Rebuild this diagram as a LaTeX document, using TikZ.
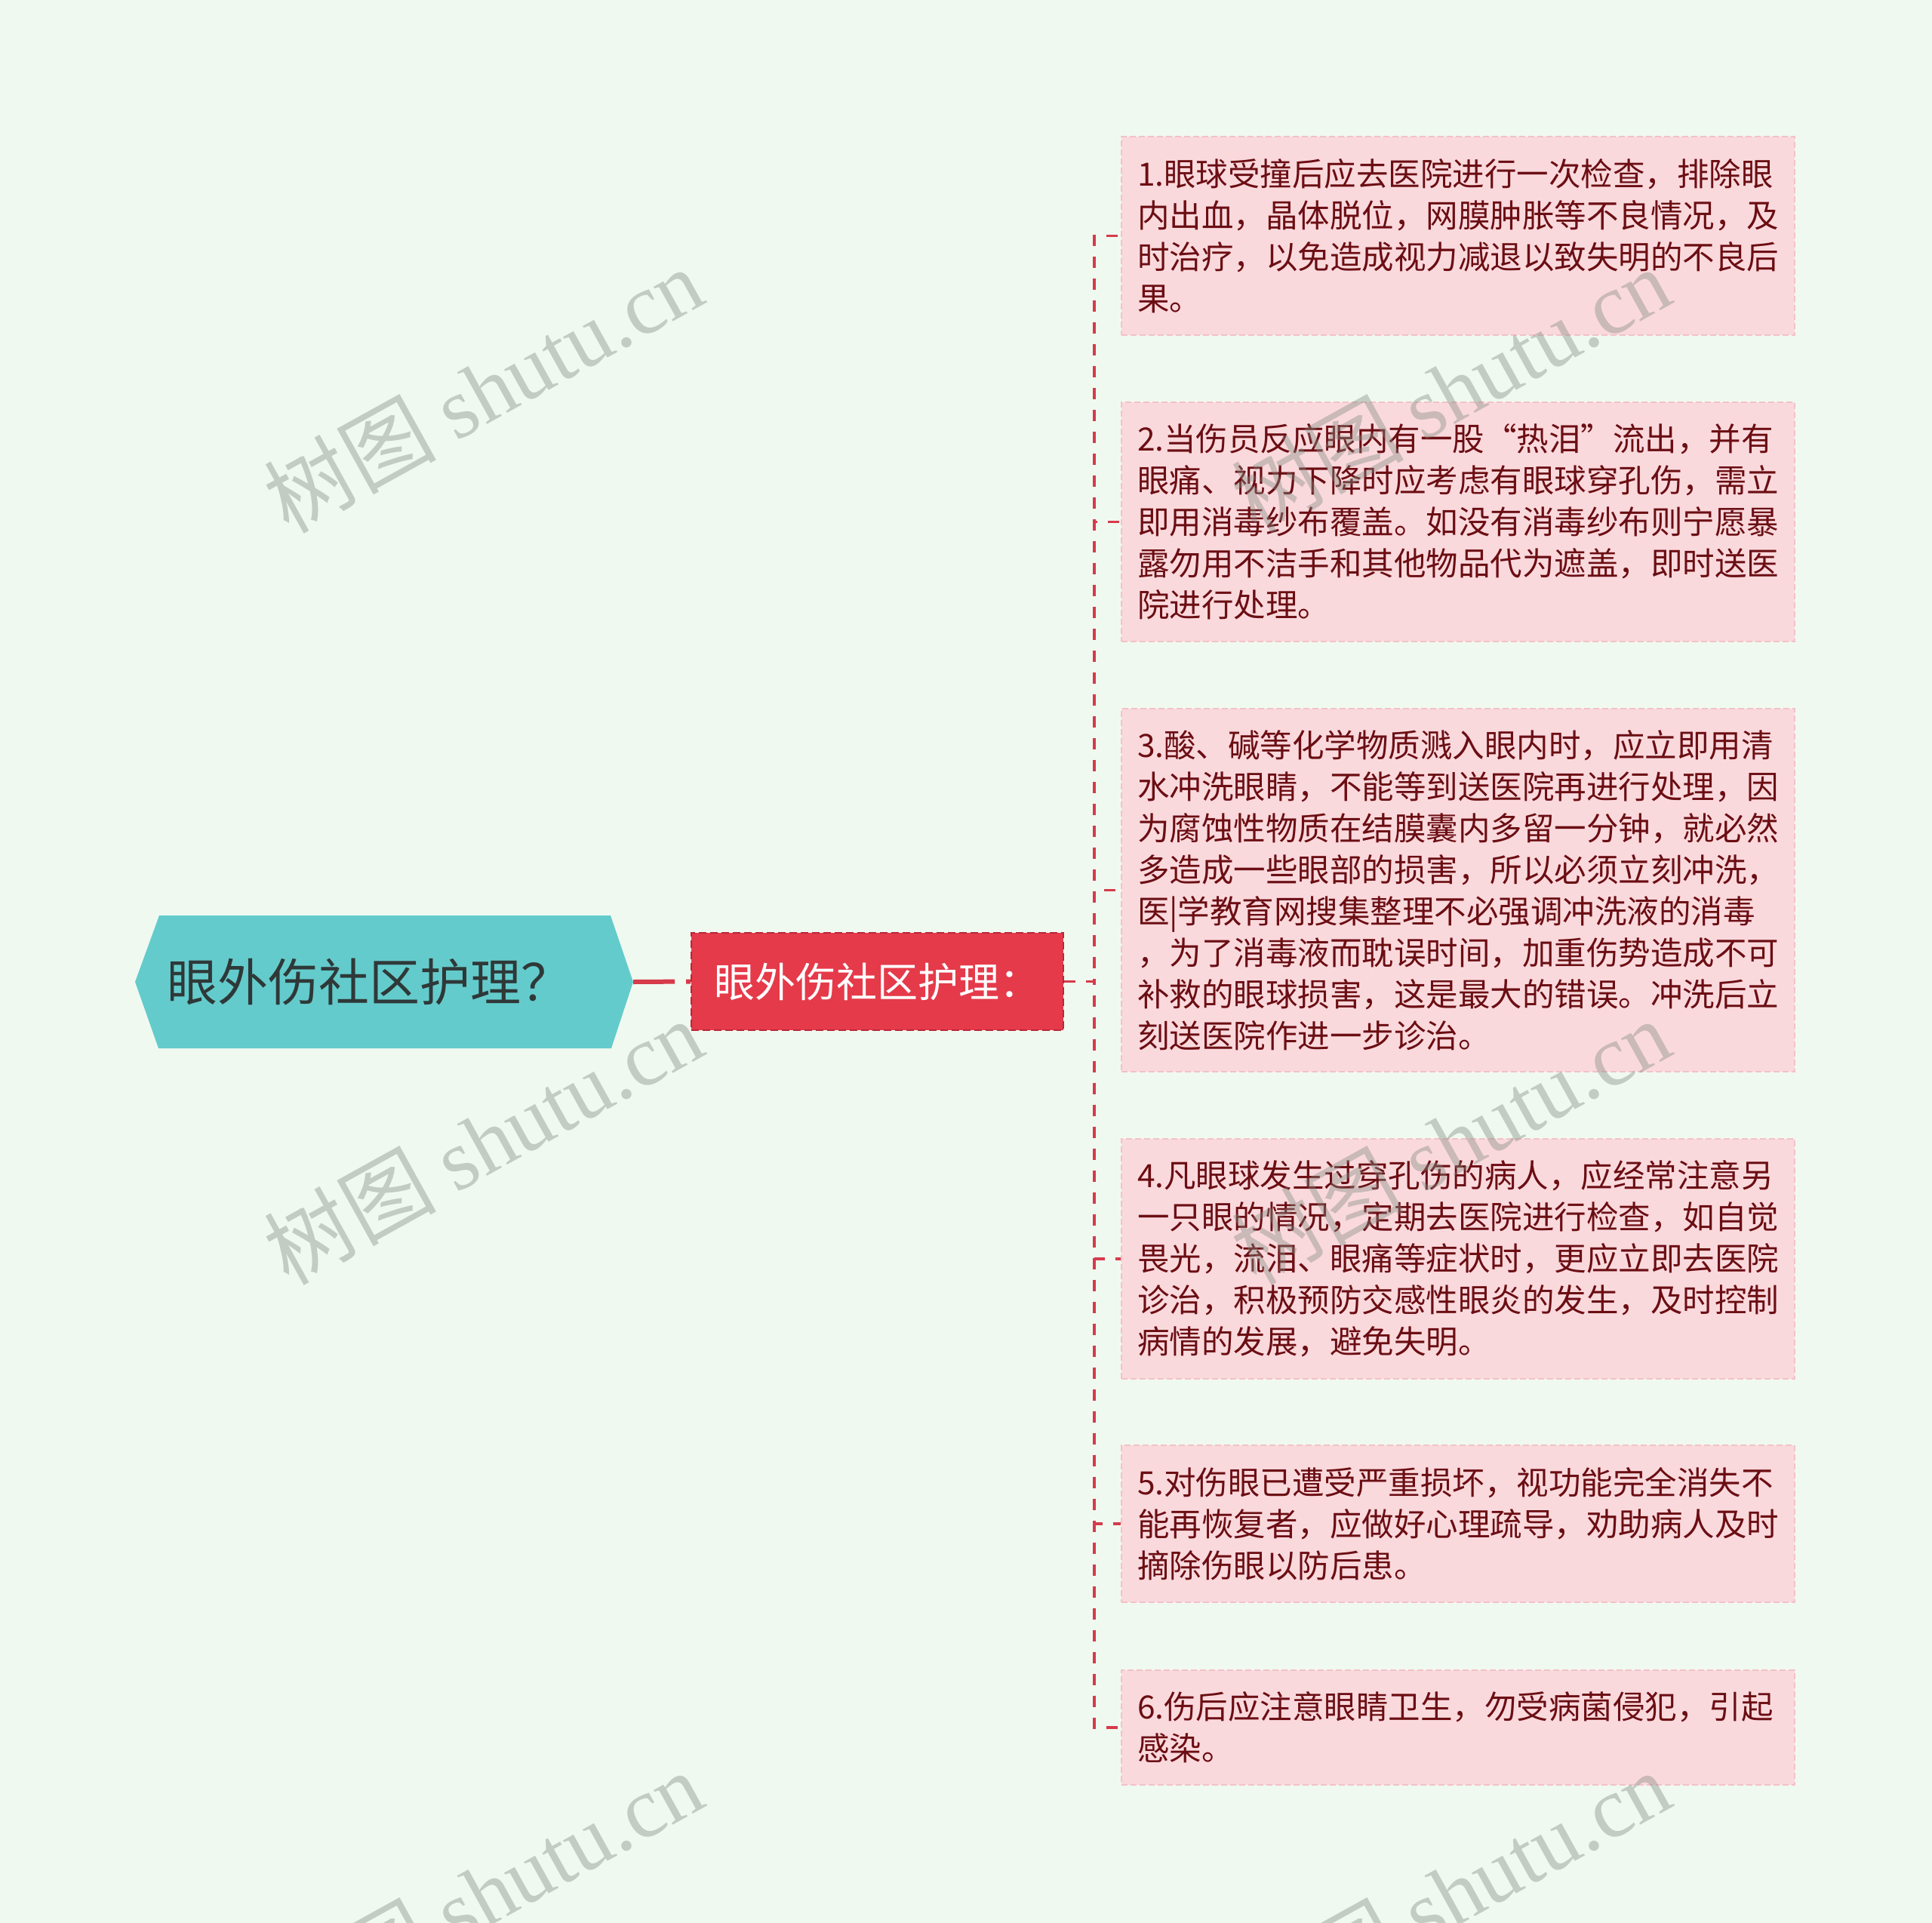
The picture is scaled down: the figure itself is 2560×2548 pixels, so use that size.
\documentclass[tikz,border=0pt]{standalone}
\usepackage{fontspec}
\setmainfont{Noto Sans CJK SC}
\newfontfamily\cjk{Noto Sans CJK SC}
\newfontfamily\wmlatin{Liberation Serif}
\definecolor{bgc}{HTML}{F0F9F0}
\definecolor{rootfill}{HTML}{64CBCC}
\definecolor{roottext}{HTML}{2F3838}
\definecolor{midfill}{HTML}{E53A4A}
\definecolor{midborder}{HTML}{B8283A}
\definecolor{leaffill}{HTML}{FAD9DD}
\definecolor{leafborder}{HTML}{F2C2C8}
\definecolor{leaftext}{HTML}{6B0E13}
\definecolor{linkred}{HTML}{D63B4B}
\definecolor{wmgray}{HTML}{808A80}
\tikzset{
  rootnode/.style={rectangle, minimum width=660pt, minimum height=176pt, inner sep=0pt, text=roottext, font=\fontsize{67pt}{80pt}\selectfont},
  midnode/.style={rectangle, draw=midborder, line width=2pt, dash pattern=on 10pt off 5pt, fill=midfill, text=white, minimum width=493pt, minimum height=129pt, inner sep=0pt, font=\fontsize{54pt}{64pt}\selectfont},
  leafbox/.style={rectangle, draw=leafborder, line width=2pt, dash pattern=on 8pt off 4pt, fill=leaffill, text=leaftext, minimum width=892pt, text width=850pt, align=left, inner xsep=21pt, inner ysep=0pt, font=\fontsize{42.5pt}{55pt}\selectfont},
  rootlink/.style={draw=linkred, line width=6pt, dash pattern=on 55pt off 15pt},
  leaflink/.style={draw=linkred, line width=3.5pt, dash pattern=on 15pt off 14pt},
  wm/.style={text=wmgray, opacity=0.4, rotate=29, inner sep=0pt, font=\fontsize{114pt}{120pt}\selectfont}
}
\begin{document}
\begin{tikzpicture}[x=1pt,y=-1pt]
\useasboundingbox (0,0) rectangle (2560,2548);
\fill[bgc] (0,0) rectangle (2560,2548);
% root hexagon
\fill[rootfill] (179,1301) -- (211,1213) -- (809,1213) -- (839,1301) -- (810,1389) -- (210,1389) -- cycle;
\node[rootnode] (root) at (509,1301) {眼外伤社区护理？\hspace*{40pt}};
\node[midnode] (mid) at (1162.5,1300.5) {眼外伤社区护理：};
\node[leafbox, minimum height=263pt] (l1) at (1932,312.5) {1.眼球受撞后应去医院进行一次检查，排除眼\\内出血，晶体脱位，网膜肿胀等不良情况，及\\时治疗，以免造成视力减退以致失明的不良后\\果。};
\node[leafbox, minimum height=317pt] (l2) at (1932,691.5) {2.当伤员反应眼内有一股“热泪”流出，并有\\眼痛、视力下降时应考虑有眼球穿孔伤，需立\\即用消毒纱布覆盖。如没有消毒纱布则宁愿暴\\露勿用不洁手和其他物品代为遮盖，即时送医\\院进行处理。};
\node[leafbox, minimum height=481pt] (l3) at (1932,1179.5) {3.酸、碱等化学物质溅入眼内时，应立即用清\\水冲洗眼睛，不能等到送医院再进行处理，因\\为腐蚀性物质在结膜囊内多留一分钟，就必然\\多造成一些眼部的损害，所以必须立刻冲洗，\\医|学教育网搜集整理不必强调冲洗液的消毒\\，为了消毒液而耽误时间，加重伤势造成不可\\补救的眼球损害，这是最大的错误。冲洗后立\\刻送医院作进一步诊治。};
\node[leafbox, minimum height=318pt] (l4) at (1932,1668) {4.凡眼球发生过穿孔伤的病人，应经常注意另\\一只眼的情况，定期去医院进行检查，如自觉\\畏光，流泪、眼痛等症状时，更应立即去医院\\诊治，积极预防交感性眼炎的发生，及时控制\\病情的发展，避免失明。};
\node[leafbox, minimum height=208pt] (l5) at (1932,2019) {5.对伤眼已遭受严重损坏，视功能完全消失不\\能再恢复者，应做好心理疏导，劝助病人及时\\摘除伤眼以防后患。};
\node[leafbox, minimum height=152pt] (l6) at (1932,2289) {6.伤后应注意眼睛卫生，勿受病菌侵犯，引起\\感染。};
% connectors
\draw[rootlink] (root.east) -- (mid.west);
\foreach \n in {l1,l2,l3,l4,l5,l6}{
  \draw[leaflink] (mid.east) -- ++(40,0) |- (\n.west);
}
% watermarks
\node[wm] (wm1) at (640,516) {\cjk 树图 \wmlatin shutu.cn};
\node[wm] (wm2) at (640,1512) {\cjk 树图 \wmlatin shutu.cn};
\node[wm] (wm3) at (640,2508) {\cjk 树图 \wmlatin shutu.cn};
\node[wm] (wm4) at (1922,516) {\cjk 树图 \wmlatin shutu.cn};
\node[wm] (wm5) at (1922,1512) {\cjk 树图 \wmlatin shutu.cn};
\node[wm] (wm6) at (1922,2508) {\cjk 树图 \wmlatin shutu.cn};
\end{tikzpicture}
\end{document}
